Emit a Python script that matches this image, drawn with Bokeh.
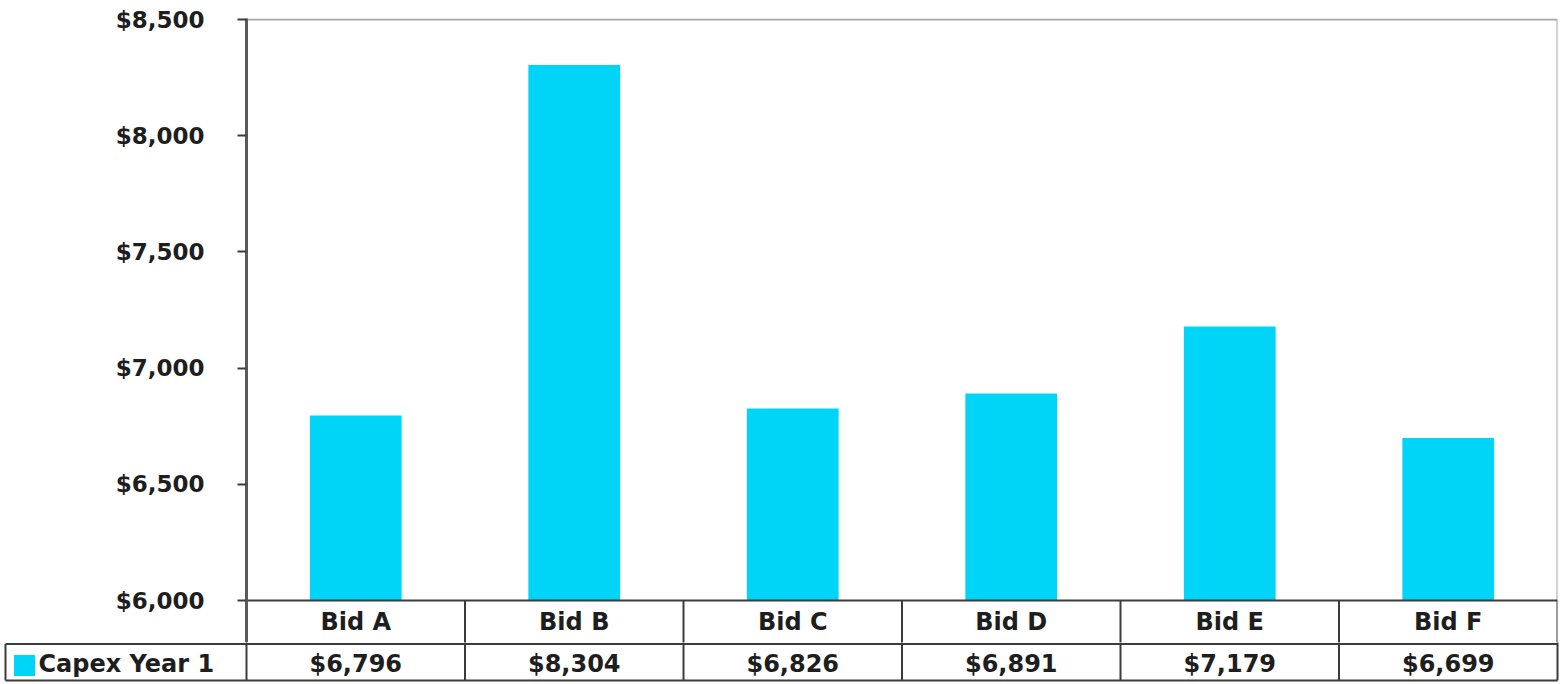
from bokeh.plotting import figure
from bokeh.layouts import column
from bokeh.models import Range1d, FactorRange, FixedTicker, NumeralTickFormatter, ColumnDataSource
from bokeh.embed import file_html
from bokeh.resources import INLINE
from bokeh.core.properties import value

categories = ["Bid A", "Bid B", "Bid C", "Bid D", "Bid E", "Bid F"]
capex_year1 = [6796, 8304, 6826, 6891, 7179, 6699]
y_ticks = [6000, 6500, 7000, 7500, 8000, 8500]
series_name = "Capex Year 1"

BAR = "#00D5F7"
FONT = "DejaVu Sans"
TXT = "#1e1e1e"
TABLE_LINE = "#3c3c3c"
BORDER = "#a6a6a6"

W = 1560
PLOT_L, PLOT_R = 246, 1557
COL = (PLOT_R - PLOT_L) / len(categories)
Y_TOP, Y_AXIS0 = 19, 600          # screen rows of the top and bottom tick
SPLIT = 642                       # upper figure (chart + category row) / lower figure (value row)
FRAME_TOP = 18
PX = (y_ticks[-1] - y_ticks[0]) / (Y_AXIS0 - Y_TOP)
ymax = y_ticks[-1] + (Y_TOP - FRAME_TOP) * PX
ymin = y_ticks[0] - (SPLIT - Y_AXIS0) * PX

def top_y(py):
    return y_ticks[0] - (py - Y_AXIS0) * PX

# ---------------- top: bar chart + category row ----------------
top = figure(width=W, height=SPLIT,
             x_range=FactorRange(factors=categories, range_padding=0),
             y_range=Range1d(ymin, ymax),
             output_backend="svg", toolbar_location=None,
             x_axis_location=None, frame_align=False,
             min_border_left=PLOT_L, min_border_right=W - PLOT_R,
             min_border_top=FRAME_TOP, min_border_bottom=0)

src = ColumnDataSource(dict(cat=categories, val=capex_year1))
top.vbar(x="cat", top="val", bottom=y_ticks[0], width=0.42, source=src,
         fill_color=BAR, line_color=None)

top.xgrid.visible = False
top.ygrid.visible = False
top.outline_line_color = None
top.background_fill_color = "white"
top.border_fill_color = "white"

first = (categories[0], -0.5)
last = (categories[-1], 0.5)
# plot-area border (top and right)
top.segment(x0=[first, last], x1=[last, last], y0=[y_ticks[-1], y_ticks[0]],
            y1=[y_ticks[-1], y_ticks[-1]], line_color=BORDER, line_width=2)
# top line of the data table and column separators of the category row
top.segment(x0=[first], x1=[last], y0=[y_ticks[0]], y1=[y_ticks[0]],
            line_color=TABLE_LINE, line_width=2)
vx = [(c, -0.5) for c in categories[1:]] + [last]
top.segment(x0=vx, x1=vx, y0=[y_ticks[0]] * len(vx), y1=[top_y(SPLIT + 10)] * len(vx),
            line_color=TABLE_LINE, line_width=2)
top.text(x=categories, y=[top_y(621)] * len(categories), text=categories,
         text_font=value(FONT), text_font_style="bold", text_font_size="24px",
         text_color=TXT, text_align="center", text_baseline="middle")

ya = top.yaxis[0]
ya.ticker = FixedTicker(ticks=y_ticks)
ya.formatter = NumeralTickFormatter(format="$0,0")
ya.minor_tick_line_color = None
ya.major_tick_in = 0
ya.major_tick_out = 9
ya.major_tick_line_color = TABLE_LINE
ya.major_tick_line_width = 2
ya.axis_line_color = "#5a5a5a"
ya.axis_line_width = 3
ya.major_label_text_font = FONT
ya.major_label_text_font_style = "bold"
ya.major_label_text_font_size = "23px"
ya.major_label_text_color = TXT
ya.major_label_standoff = 33

# ---------------- bottom: value row + legend key ----------------
BL, BR = 2, 1559
x0 = -(PLOT_L - BL) / COL
x1 = len(categories) + (BR - PLOT_R) / COL
H = 684 - SPLIT

bot = figure(width=W, height=H, x_range=Range1d(x0, x1), y_range=Range1d(0, H),
             output_backend="svg", toolbar_location=None,
             x_axis_location=None, y_axis_location=None, frame_align=False,
             min_border_left=BL, min_border_right=W - BR,
             min_border_top=0, min_border_bottom=0)
bot.outline_line_color = None
bot.xgrid.visible = False
bot.ygrid.visible = False
bot.background_fill_color = "white"
bot.border_fill_color = "white"

def sx(px):
    return (px - PLOT_L) / COL

def sy(py):
    return H - (py - SPLIT)

n = len(categories)
left_box = sx(5)
bot.segment(x0=[left_box, left_box], x1=[n, n],
            y0=[sy(643.5), sy(680)], y1=[sy(643.5), sy(680)],
            line_color=TABLE_LINE, line_width=2)
vxs = list(range(n + 1))
bot.segment(x0=vxs, x1=vxs, y0=[H + 10] * (n + 1), y1=[sy(680)] * (n + 1),
            line_color=TABLE_LINE, line_width=2)
bot.segment(x0=[left_box], x1=[left_box], y0=[sy(643.5)], y1=[sy(680)],
            line_color=TABLE_LINE, line_width=2)

centers = [i + 0.5 for i in range(n)]
bot.text(x=centers, y=[sy(663)] * n, text=["${:,}".format(v) for v in capex_year1],
         text_font=value(FONT), text_font_style="bold", text_font_size="24px",
         text_color=TXT, text_align="center", text_baseline="middle")

# legend key
bot.rect(x=[sx(24)], y=[sy(665)], width=21, height=21, width_units="screen",
         height_units="screen", fill_color=BAR, line_color=None)
bot.text(x=[sx(38)], y=[sy(663)], text=[series_name],
         text_font=value(FONT), text_font_style="bold", text_font_size="24px",
         text_color=TXT, text_align="left", text_baseline="middle")

layout = column(top, bot, spacing=0)
open("out.html", "w").write(file_html(layout, INLINE))
